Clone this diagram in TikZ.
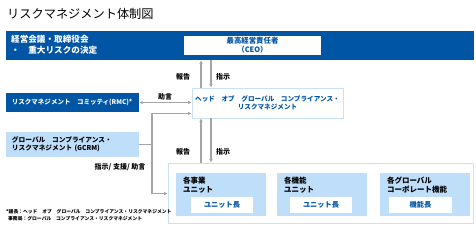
\documentclass[tikz,border=0pt]{standalone}
\usepackage{fontspec}
\setmainfont{Noto Sans CJK JP}
\usetikzlibrary{arrows.meta,positioning}

\definecolor{darkblue}{RGB}{0,85,165}
\definecolor{paleblue}{RGB}{190,222,250}
\definecolor{edgeblue}{RGB}{200,225,247}
\definecolor{linegray}{RGB}{165,165,165}

\newcommand{\fsz}[1]{\fontsize{#1}{1.25\dimexpr#1\relax}\selectfont}

\begin{document}
\begin{tikzpicture}[
  x=1bp, y=-1bp,
  darkbox/.style={rectangle, fill=darkblue, text=white, inner sep=0pt},
  lightbox/.style={rectangle, fill=paleblue, inner sep=0pt},
  framebox/.style={rectangle, draw=edgeblue, line width=1.2bp, fill=white, inner sep=0pt},
  leadbox/.style={rectangle, fill=white, text=darkblue, inner sep=0pt, font=\bfseries\fsz{7.2bp}},
  boxtext/.style={inner sep=0pt, align=left, anchor=north west, font=\bfseries\fsz{7.5bp}},
  label/.style={inner sep=0pt, font=\bfseries\fsz{7bp}},
  conn/.style={draw=linegray, line width=1.1bp, -{Latex[length=3.5bp,width=3.5bp]}}
]
  \useasboundingbox (0,0) rectangle (476,225);

  % Titel
  \node[inner sep=0pt, anchor=west, font=\fsz{12.2bp}] (title) at (7,14) {リスクマネジメント体制図};

  % Oberes Band
  \node[darkbox, minimum width=468bp, minimum height=29bp, anchor=north west] (board) at (6,31) {};
  \node[boxtext, text=white, font=\bfseries\fsz{8.6bp}, text depth=0pt] at (11,35)
    {経営会議・取締役会\\・\quad 重大リスクの決定};
  \node[leadbox, minimum width=137bp, minimum height=19bp, align=center, font=\bfseries\fsz{7.4bp}] (ceo) at (252.5,45.5)
    {最高経営責任者\\（CEO）};

  % Mittlere Ebene
  \node[framebox, line width=0.8bp, minimum width=151bp, minimum height=30bp, text=darkblue, align=center,
        font=\bfseries\fsz{6.6bp}] (head) at (267.5,103)
    {ヘッド　オブ　グローバル　コンプライアンス・\\リスクマネジメント};
  \node[darkbox, minimum width=133bp, minimum height=19bp, text width=121bp, align=left,
        font=\bfseries\fsz{6.5bp}] (rmc) at (72.5,102.5) {リスクマネジメント　コミッティ(RMC)*};
  \node[lightbox, minimum width=133bp, minimum height=25bp, text width=121bp, align=left,
        font=\bfseries\fsz{6.7bp}] (gcrm) at (72.5,144.5)
    {グローバル　コンプライアンス・\\リスクマネジメント (GCRM)};

  % Untere Ebene
  \node[framebox, line width=1.8bp, minimum width=305bp, minimum height=60bp] (units) at (321,193.5) {};
  \node[lightbox, minimum width=90bp, minimum height=43bp] (bu) at (221,194.5) {};
  \node[lightbox, minimum width=90bp, minimum height=43bp] (fu) at (322,194.5) {};
  \node[lightbox, minimum width=90bp, minimum height=43bp] (gc) at (425,194.5) {};
  \node[boxtext] at ([xshift=7bp,yshift=-4bp]bu.north west) {各事業\\ユニット};
  \node[boxtext] at ([xshift=7bp,yshift=-4bp]fu.north west) {各機能\\ユニット};
  \node[boxtext] at ([xshift=7bp,yshift=-4bp]gc.north west) {各グローバル\\コーポレート機能};
  \node[leadbox, minimum width=62bp, minimum height=16bp] (bulead) at (222,205) {ユニット長};
  \node[leadbox, minimum width=62bp, minimum height=16bp] (fulead) at (321,205) {ユニット長};
  \node[leadbox, minimum width=63bp, minimum height=16bp] (gclead) at (420.5,205) {機能長};

  % Verbindungen
  \coordinate (repx) at (201,0);
  \coordinate (insx) at (211,0);
  \coordinate (busx) at (152,0);
  \coordinate (hin) at ([yshift=5bp]head.south west);
  \draw[conn] (repx |- head.north) -- (repx |- board.south);
  \draw[conn] (insx |- board.south) -- (insx |- head.north);
  \draw[conn] (repx |- units.north) -- (repx |- head.south);
  \draw[conn] (insx |- head.south) -- (insx |- units.north);
  \draw[conn, {Latex[length=3.5bp,width=3.5bp]}-{Latex[length=3.5bp,width=3.5bp]}] (rmc.east) -- (rmc.east -| head.west);
  \draw[conn, -] (gcrm.east) -| (busx |- hin);
  \draw[conn] (busx |- hin) -- (hin);
  \draw[conn] (busx |- hin) |- (units.west);

  % Beschriftungen
  \node[label] (rep1) at (183,77) {報告};
  \node[label] (ins1) at (223,77) {指示};
  \node[label] (adv) at (165,97) {助言};
  \node[label] (rep2) at (183,152) {報告};
  \node[label] (ins2) at (223,152) {指示};
  \node[label] (sup) at (120,167) {指示/ 支援/ 助言};

  % Fussnote
  \node[inner sep=0pt, anchor=west, font=\bfseries\fsz{4.8bp}] (note1) at (6,212)
    {*議長：ヘッド　オブ　グローバル　コンプライアンス・リスクマネジメント};
  \node[inner sep=0pt, anchor=west, font=\bfseries\fsz{4.8bp}] (note2) at (8,219)
    {事務局：グローバル　コンプライアンス・リスクマネジメント};
\end{tikzpicture}
\end{document}
